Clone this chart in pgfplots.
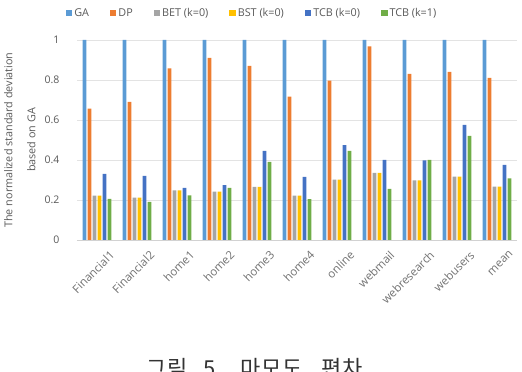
\documentclass[border=0pt]{standalone}
\usepackage{pgfplots}
\usepackage{pgfplotstable}
\pgfplotsset{compat=1.18}
\usepackage{fontspec}
\setmainfont{Open Sans}
\newfontfamily\krfont{Noto Sans CJK KR}

\definecolor{cGA}{HTML}{5B9BD5}
\definecolor{cDP}{HTML}{ED7D31}
\definecolor{cBET}{HTML}{A5A5A5}
\definecolor{cBST}{HTML}{FFC000}
\definecolor{cTCBa}{HTML}{4472C4}
\definecolor{cTCBb}{HTML}{70AD47}
\definecolor{txt}{HTML}{595959}

% normalized standard deviation of wear, per trace
\pgfplotstableread{
x  GA   DP     BET    BST    TCBa   TCBb
0  1    0.657  0.222  0.222  0.330  0.206
1  1    0.690  0.212  0.212  0.320  0.190
2  1    0.858  0.248  0.248  0.260  0.223
3  1    0.910  0.242  0.242  0.274  0.260
4  1    0.870  0.266  0.266  0.446  0.391
5  1    0.717  0.222  0.222  0.315  0.204
6  1    0.797  0.302  0.302  0.474  0.446
7  1    0.968  0.336  0.336  0.401  0.255
8  1    0.830  0.298  0.298  0.398  0.400
9  1    0.840  0.317  0.317  0.576  0.521
10 1    0.810  0.267  0.267  0.376  0.308
}\wear

\begin{document}
\begin{tikzpicture}
\useasboundingbox (0,0) rectangle (522pt,372pt);
\begin{axis}[
  at={(77pt,132pt)}, anchor=south west,
  scale only axis, width=440pt, height=200pt,
  ybar=1.2pt, bar width=3.8pt,
  xmin=-0.5, xmax=10.5, ymin=0, ymax=1,
  xtick={0,1,2,3,4,5,6,7,8,9,10},
  xticklabels={Financial1,Financial2,home1,home2,home3,home4,online,webmail,webresearch,webusers,mean},
  ytick={0,0.2,0.4,0.6,0.8,1},
  yticklabels={0,0.2,0.4,0.6,0.8,1},
  ymajorgrids,
  grid style={draw=gray!22, line width=0.6pt},
  axis x line*=bottom, axis y line*=left,
  y axis line style={draw=none},
  x axis line style={draw=gray!35, line width=0.6pt, -},
  major tick length=0pt,
  tick label style={font=\fontsize{10.5}{12}\selectfont, text=txt},
  yticklabel style={xshift=-14pt},
  xticklabel style={rotate=45, anchor=north east, yshift=-12pt, xshift=5pt,
    font=\fontsize{11.5}{12}\selectfont, text=txt!85},
  ylabel={The normalized standard deviation\\[11pt]based on GA},
  ylabel style={align=center, font=\fontsize{10.8}{12}\selectfont, text=txt,
    at={(axis description cs:-0.13,0.5)}, anchor=center},
  legend columns=6,
  legend style={at={(0.398,1.135)}, anchor=center, draw=none, fill=none,
    font=\fontsize{10.8}{12}\selectfont, text=txt,
    /tikz/every even column/.append style={column sep=19pt},
    /tikz/inner sep=1pt},
  legend image code/.code={\fill[#1] (0pt,-3pt) rectangle (6.4pt,3.4pt);},
]
\addplot[fill=cGA, draw=none] table[x=x, y=GA] {\wear};
\addplot[fill=cDP, draw=none] table[x=x, y=DP] {\wear};
\addplot[fill=cBET, draw=none] table[x=x, y=BET] {\wear};
\addplot[fill=cBST, draw=none] table[x=x, y=BST] {\wear};
\addplot[fill=cTCBa, draw=none] table[x=x, y=TCBa] {\wear};
\addplot[fill=cTCBb, draw=none] table[x=x, y=TCBb] {\wear};
\legend{GA, DP, BET (k=0), BST (k=0), TCB (k=0), TCB (k=1)}
\end{axis}
\node[font=\krfont\fontsize{22}{24}\selectfont, text=black!80, inner sep=0pt] at (255pt,4pt)
  {\addfontfeature{LetterSpace=4}그림\hspace{15pt}5.\hspace{18pt}마모도\hspace{19pt}편차};
\end{tikzpicture}
\end{document}
